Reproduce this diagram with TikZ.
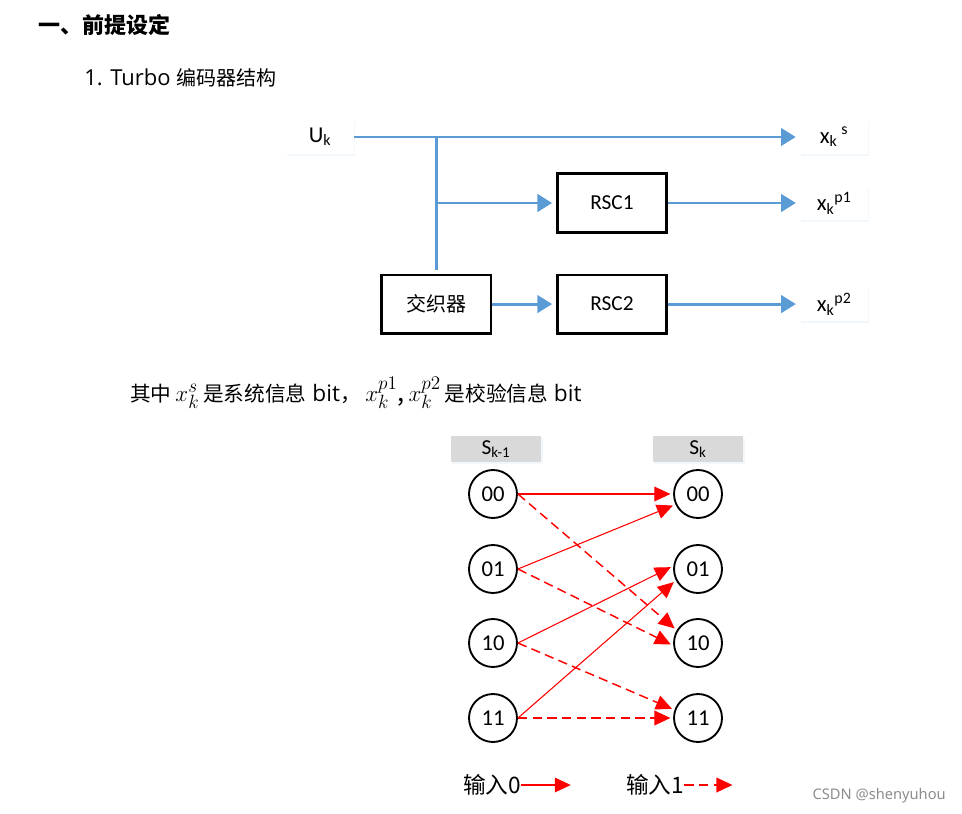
\documentclass[tikz,border=0pt]{standalone}
\usepackage{fontspec}
\setmainfont{Carlito}
\newfontfamily\cjk{Noto Sans CJK SC}
\newfontfamily\latin{Open Sans}
\newfontfamily\wmfont{Noto Sans}
\usetikzlibrary{arrows.meta,positioning,shadows}
\definecolor{flowblue}{RGB}{91,155,213}
\definecolor{hdrgray}{RGB}{217,217,217}

\begin{document}
\begin{tikzpicture}[x=0.75pt,y=-0.75pt,
    lbl/.style={fill=white, drop shadow={shadow xshift=1pt, shadow yshift=-1.5pt, opacity=0.08, fill=flowblue}, minimum width=51pt, minimum height=25pt, font=\fontsize{17}{20}\selectfont},
    blk/.style={rectangle, draw, line width=1.8pt, minimum width=82pt, minimum height=44pt, font=\fontsize{16}{19}\selectfont},
    flow/.style={draw=flowblue, line width=2.2pt, -{Triangle[length=11pt,width=13pt]}, shorten >=3pt},
    hdr/.style={fill=hdrgray, drop shadow={shadow xshift=1pt, shadow yshift=-1.5pt, opacity=0.08, fill=flowblue}, minimum width=68pt, minimum height=20pt, inner sep=0pt, font=\fontsize{16}{19}\selectfont},
    st/.style={circle, draw, line width=1.4pt, minimum size=36pt, inner sep=0pt, font=\fontsize{17}{20}\selectfont},
    zeroedge/.style={draw=red, line width=0.8pt, -{Triangle[length=12pt,width=11pt]}, shorten >=2pt},
    oneedge/.style={draw=red, line width=1.1pt, dash pattern=on 7pt off 4pt, -{Triangle[length=12pt,width=11pt]}, shorten >=2pt}]
\useasboundingbox (0,0) rectangle (962,813);

% headings
\node(title) [anchor=west, inner sep=0pt, font=\cjk\bfseries\fontsize{16.5}{19}\selectfont] at (38,25) {一、前提设定};
\node(sub) [anchor=west, inner sep=0pt, font=\cjk\fontsize{15}{18}\selectfont] at (84,78) {{\latin\fontsize{16.5}{18}\selectfont 1. Turbo }编码器结构};

% encoder
\node(uk) [lbl] at (320,137) {U\textsubscript{k}};
\node(xs) [lbl] at (834,137) {x\textsubscript{k}\,\textsuperscript{s}};
\node(rsc1) [blk] at (612,203) {RSC1};
\node(rsc2) [blk, below=30pt of rsc1] {RSC2};
\node(ilv) [blk, left=48pt of rsc2, font=\cjk\fontsize{15}{18}\selectfont] {交织器};
\node(xp1) [lbl, right=99pt of rsc1] {x\textsubscript{k}\textsuperscript{p1}};
\node(xp2) [lbl, right=99pt of rsc2] {x\textsubscript{k}\textsuperscript{p2}};
\draw[flow] (uk) -- (xs);
\draw[flow, -] (uk -| ilv) -- (ilv);
\draw[flow] (rsc1 -| ilv) -- (rsc1);
\draw[flow] (ilv) -- (rsc2);
\draw[flow] (rsc1) -- (xp1);
\draw[flow] (rsc2) -- (xp2);

\node(note) [anchor=west, inner sep=0pt, font=\cjk\fontsize{15.5}{18}\selectfont] at (130,393) {其中{\fontsize{19}{20}\selectfont$\,x_k^s\,$}是系统信息{\latin\fontsize{17}{18}\selectfont\ bit}，\ {\fontsize{19}{20}\selectfont$x_k^{p1}$,$\,x_k^{p2}\,$}是校验信息{\latin\fontsize{17}{18}\selectfont\ bit}};

% trellis
\node(hdl) [hdr] at (496,449) {S\textsubscript{k-1}};
\node(hdr) [hdr] at (698,449) {S\textsubscript{k}};
\foreach \s/\y in {00/494,01/569,10/643,11/718} {
  \node(l\s) [st] at (493,\y) {\s};
  \node(r\s) [st] at (698,\y) {\s};
}
\draw[zeroedge] (l00.east) -- (r00.west);
\draw[zeroedge] (l01.east) -- (r00.205);
\draw[zeroedge] (l10.east) -- (r01.173);
\draw[zeroedge] (l11.east) -- (r01.207);
\draw[oneedge] (l00.east) -- (r10.149);
\draw[oneedge] (l01.east) -- (r10.186);
\draw[oneedge] (l10.east) -- (r11.161);
\draw[oneedge] (l11.east) -- (r11.west);

% legend
\node(leg0) [anchor=west, inner sep=0pt, font=\cjk\fontsize{17}{20}\selectfont] at (463,785) {输入0};
\coordinate[right=37pt of leg0] (leg0end);
\draw[zeroedge, shorten >=0pt] (leg0) -- (leg0end);
\node(leg1) [anchor=west, inner sep=0pt, font=\cjk\fontsize{17}{20}\selectfont] at (626,785) {输入1};
\coordinate[right=36pt of leg1] (leg1end);
\draw[oneedge, shorten >=0pt] (leg1) -- (leg1end);

\node(mark) [anchor=east, inner sep=0pt, text=black!45, font=\wmfont\fontsize{11}{13}\selectfont] at (946,796) {CSDN @shenyuhou};
\end{tikzpicture}
\end{document}
